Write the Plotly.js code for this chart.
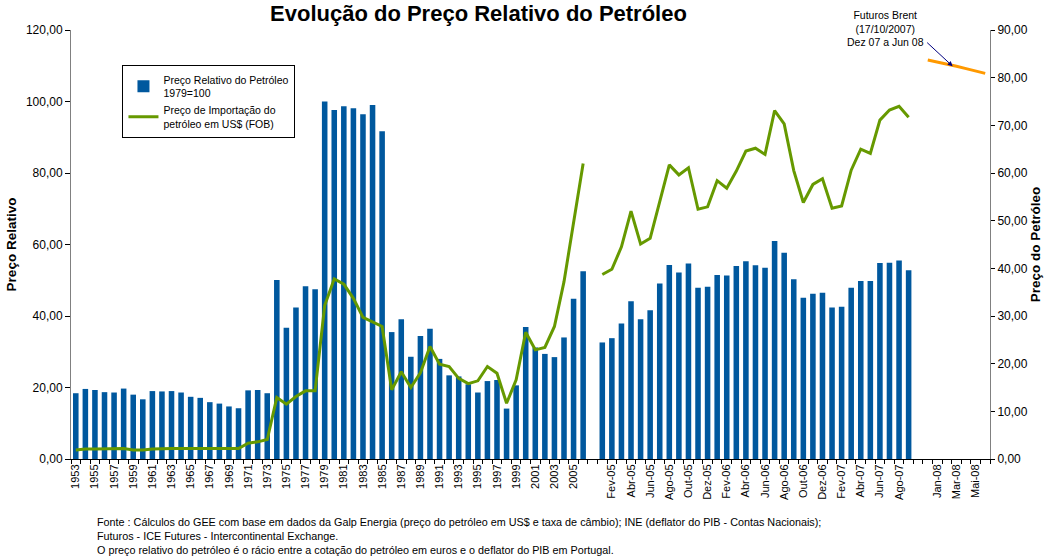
<!DOCTYPE html>
<html>
<head>
<meta charset="utf-8">
<script src="https://cdn.plot.ly/plotly-3.0.1.min.js"></script>
<style>html,body{margin:0;padding:0;background:#fff;}#chart{width:1047px;height:560px;}</style>
</head>
<body>
<div id="chart"></div>
<script>
// ---- Data ----
const years = ['1953','1954','1955','1956','1957','1958','1959','1960','1961','1962','1963','1964','1965','1966','1967','1968','1969','1970','1971','1972','1973','1974','1975','1976','1977','1978','1979','1980','1981','1982','1983','1984','1985','1986','1987','1988','1989','1990','1991','1992','1993','1994','1995','1996','1997','1998','1999','2000','2001','2002','2003','2004','2005','2006'];
const annualRelPrice = [18.4,19.6,19.3,18.7,18.6,19.7,18.0,16.7,19.0,18.9,19.0,18.6,17.4,17.1,15.9,15.5,14.7,14.2,19.2,19.3,18.4,50.1,36.7,42.4,48.3,47.5,100.0,97.6,98.7,98.1,96.4,99.0,91.7,35.5,39.1,28.6,34.4,36.4,28.0,23.4,23.1,20.9,18.6,21.8,22.1,14.1,20.6,36.9,31.2,29.4,28.5,34.0,44.8,52.5];
const annualImportPrice = [1.9,2.1,2.1,2.1,2.1,2.2,1.9,1.9,2.1,2.2,2.2,2.2,2.2,2.2,2.2,2.2,2.2,2.2,3.3,3.6,4.1,12.9,11.5,13.1,14.3,14.3,32.2,37.8,36.7,33.7,29.7,28.7,27.8,14.5,18.3,15.0,18.1,23.6,19.9,19.4,16.9,15.8,16.4,19.4,18.0,11.7,16.6,26.6,22.9,23.4,27.8,37.2,50.1,62.0];

const months = ['Jan-05','Fev-05','Mar-05','Abr-05','Mai-05','Jun-05','Jul-05','Ago-05','Set-05','Out-05','Nov-05','Dez-05','Jan-06','Fev-06','Mar-06','Abr-06','Mai-06','Jun-06','Jul-06','Ago-06','Set-06','Out-06','Nov-06','Dez-06','Jan-07','Fev-07','Mar-07','Abr-07','Mai-07','Jun-07','Jul-07','Ago-07','Set-07'];
const monthlyRelPrice = [32.6,33.8,37.9,44.1,39.1,41.6,49.1,54.3,52.2,54.7,47.9,48.2,51.5,51.3,54.0,55.3,54.2,53.5,61.0,57.7,50.3,45.1,46.2,46.5,42.4,42.6,47.9,49.8,49.8,54.8,54.9,55.5,52.8];
const monthlyImportPrice = [38.7,39.8,44.5,52.0,45.1,46.3,54.0,61.7,59.6,61.1,52.4,52.9,58.4,56.8,60.4,64.6,65.2,63.9,73.1,70.3,60.5,53.8,57.6,58.8,52.6,53.1,60.6,65.0,64.1,71.1,73.2,74.0,71.7];

const futuresMonths = ['Dez-07','Jan-08','Fev-08','Mar-08','Abr-08','Mai-08','Jun-08'];
const futuresBrent = [83.7,83.3,82.8,82.4,81.9,81.4,80.9];

const gapA = ' ';   // empty category between annual and monthly data
const gapB = '  ';  // empty category before the futures months

// ---- Category axis ----
const categories = years.concat([gapA], months, [gapB], futuresMonths);
const tickLabels = categories.map((c, i) => (i % 2 === 0 ? c : ''));

const FONT = 'Liberation Sans, Arial, Helvetica, sans-serif';

const traces = [
  {
    type: 'bar',
    name: 'Preço Relativo do Petróleo<br>1979=100',
    x: years.concat(months),
    y: annualRelPrice.concat(monthlyRelPrice),
    marker: {color: '#00589E', line: {width: 0}},
    yaxis: 'y',
    hoverinfo: 'x+y'
  },
  {
    type: 'scatter',
    mode: 'lines',
    name: 'Preço de Importação do<br>petróleo em US$ (FOB)',
    x: years.concat([gapA], months),
    y: annualImportPrice.concat([null], monthlyImportPrice),
    connectgaps: false,
    line: {color: '#669900', width: 3},
    yaxis: 'y2'
  },
  {
    type: 'scatter',
    mode: 'lines',
    name: 'Futuros Brent',
    x: futuresMonths,
    y: futuresBrent,
    line: {color: '#FF9900', width: 3},
    yaxis: 'y2',
    showlegend: false
  }
];

const layout = {
  width: 1047,
  height: 560,
  paper_bgcolor: '#ffffff',
  plot_bgcolor: '#ffffff',
  separators: ',.',
  font: {family: FONT, color: '#000', size: 11},
  margin: {l: 71, r: 57, t: 30, b: 101, pad: 0},
  bargap: 0.42,
  showlegend: true,
  title: {
    text: '<b>Evolução do Preço Relativo do Petróleo</b>',
    font: {family: FONT, size: 22, color: '#000'},
    xref: 'container', x: 0.457, xanchor: 'center',
    yref: 'container', y: 0.976, yanchor: 'middle'
  },
  legend: {
    x: 0.056, y: 0.918, xanchor: 'left', yanchor: 'top',
    bordercolor: '#000', borderwidth: 1, bgcolor: '#fff',
    font: {family: FONT, size: 10.5, color: '#000'},
    tracegroupgap: 0, itemwidth: 30
  },
  xaxis: {
    type: 'category',
    categoryorder: 'array',
    categoryarray: categories,
    range: [-0.5, categories.length - 0.5],
    tickmode: 'array',
    tickvals: categories,
    ticktext: tickLabels,
    tickson: 'boundaries',
    ticks: 'outside',
    ticklen: 4,
    tickcolor: '#000',
    tickangle: -90,
    tickfont: {family: FONT, size: 11, color: '#000'},
    showline: true,
    linecolor: '#000',
    linewidth: 1,
    showgrid: false,
    zeroline: false,
    fixedrange: true
  },
  yaxis: {
    range: [0, 120],
    tickmode: 'linear', tick0: 0, dtick: 20,
    tickformat: '.2f',
    ticks: 'outside', ticklen: 5, tickcolor: '#000',
    tickfont: {family: FONT, size: 12, color: '#000'},
    showline: true, linecolor: '#808080', linewidth: 1,
    showgrid: false, zeroline: false,
    title: {text: '<b>Preço Relativo</b>', font: {family: FONT, size: 13.5, color: '#000'}, standoff: 6},
    fixedrange: true
  },
  yaxis2: {
    overlaying: 'y',
    side: 'right',
    range: [0, 90],
    tickmode: 'linear', tick0: 0, dtick: 10,
    tickformat: '.2f',
    ticks: 'outside', ticklen: 4, tickcolor: '#000',
    tickfont: {family: FONT, size: 12, color: '#000'},
    showline: true, linecolor: '#808080', linewidth: 1,
    showgrid: false, zeroline: false,
    title: {text: '<b>Preço do Petróleo</b>', font: {family: FONT, size: 13.5, color: '#000'}, standoff: 0},
    fixedrange: true
  },
  annotations: [
    {
      text: 'Futuros Brent<br>(17/10/2007)<br>Dez 07 a Jun 08',
      xref: 'paper', yref: 'paper',
      x: (885 - 71) / 919, y: (459 - 29) / 429,
      xanchor: 'center', yanchor: 'middle',
      showarrow: false, align: 'center',
      font: {family: FONT, size: 10.5, color: '#000'}
    },
    {
      text: ' ',
      xref: 'x', yref: 'y2',
      x: 91.6, y: 82.4,
      ax: -27, ay: -25,
      showarrow: true, arrowhead: 2, arrowsize: 1, arrowwidth: 1,
      arrowcolor: '#000080',
      font: {size: 1}
    },
    {
      text: 'Fonte : Cálculos do GEE com base em dados da Galp Energia (preço do petróleo em US$ e taxa de câmbio); INE (deflator do PIB - Contas Nacionais);<br>Futuros - ICE Futures - Intercontinental Exchange.<br>O preço relativo do petróleo é o rácio entre a cotação do petróleo em euros e o deflator do PIB em Portugal.',
      xref: 'paper', yref: 'paper',
      x: (95 - 71) / 919, y: (459 - 514) / 429,
      xanchor: 'left', yanchor: 'top',
      showarrow: false, align: 'left',
      font: {family: FONT, size: 10.8, color: '#000'}
    }
  ]
};

Plotly.newPlot('chart', traces, layout, {displayModeBar: false, staticPlot: true});
</script>
</body>
</html>
